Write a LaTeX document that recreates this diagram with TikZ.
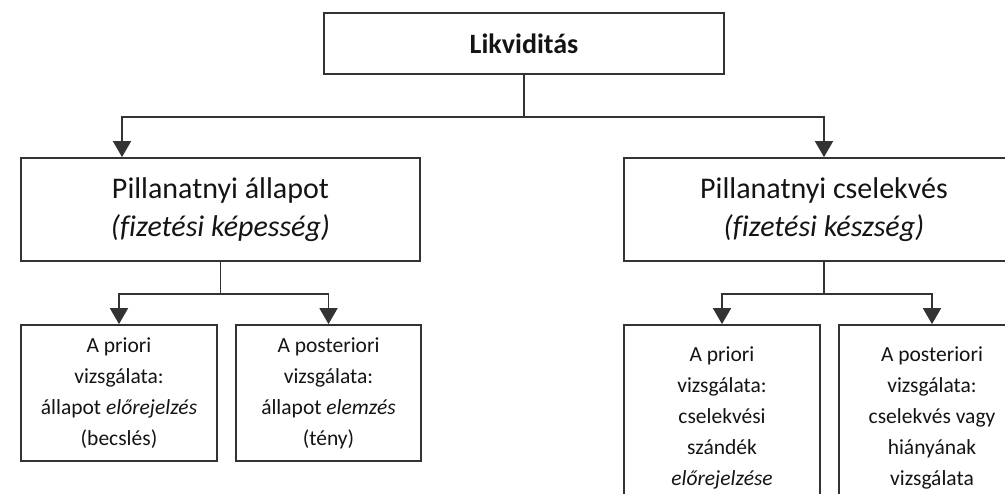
\documentclass[tikz,border=0pt]{standalone}
\usepackage{fontspec}
\setmainfont{Carlito}[Ligatures=NoCommon]
\usetikzlibrary{arrows.meta,calc}
\begin{document}
\begin{tikzpicture}[x=1pt,y=-1pt,
  box/.style={draw=black!80, line width=1.8pt, rectangle, inner sep=0pt, align=center, text=black!92},
  conn/.style={draw=black!80, line width=1.8pt},
  arr/.style={conn, -{Triangle[width=18pt,length=16pt]}},
  big/.style={font=\fontsize{30}{38}\selectfont},
  small/.style={font=\fontsize{21.5}{31}\selectfont}]
\useasboundingbox (0,0) rectangle (1005,494);
\clip (0,0) rectangle (1005,494);
% boxes
\node[box, minimum width=400, minimum height=61, font=\fontsize{28}{34}\selectfont\bfseries] (top) at (524,43.5) {Likviditás};
\node[box, big, minimum width=399, minimum height=103] (mid1) at (220.5,209.5) {Pillanatnyi állapot\\\textit{(fizetési képesség)}};
\node[box, big, minimum width=400, minimum height=103] (mid2) at (824,209.5) {Pillanatnyi cselekvés\\\textit{(fizetési készség)}};
\node[box, small, minimum width=196, minimum height=136] (b1) at (119,393) {A priori\\vizsgálata:\\állapot \textit{előrejelzés}\\(becslés)};
\node[box, small, minimum width=185, minimum height=136] (b2) at (328.5,393) {A posteriori\\vizsgálata:\\állapot \textit{elemzés}\\(tény)};
\node[box, small, minimum width=196, minimum height=185] (b3) at (722,417.5) {A priori\\vizsgálata:\\cselekvési\\szándék\\\textit{előrejelzése}};
\node[box, small, minimum width=186, minimum height=185] (b4) at (932,417.5) {A posteriori\\vizsgálata:\\cselekvés vagy\\hiányának\\vizsgálata};
% junctions
\coordinate (j0) at ($(top.south)+(0,42)$);
\coordinate (m1in) at ($(mid1.north)+(-98.5,0)$);
\coordinate (j1) at ($(mid1.south)+(0,32)$);
\coordinate (j2) at ($(mid2.south)+(0,32)$);
% connectors
\draw[conn] (top.south) -- (j0);
\draw[arr] (j0) -| (m1in);
\draw[arr] (j0) -| (mid2.north);
\draw[conn] (mid1.south) -- (j1);
\draw[arr] (j1) -| (b1.north);
\draw[arr] (j1) -| (b2.north);
\draw[conn] (mid2.south) -- (j2);
\draw[arr] (j2) -| (b3.north);
\draw[arr] (j2) -| (b4.north);
\end{tikzpicture}
\end{document}
